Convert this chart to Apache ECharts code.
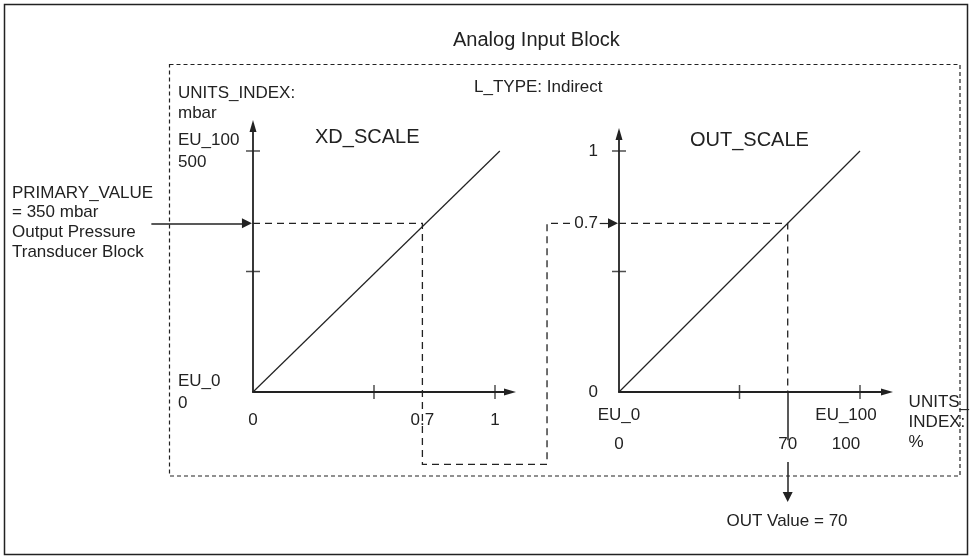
<!DOCTYPE html>
<html>
<head>
<meta charset="utf-8">
<script src="https://cdn.jsdelivr.net/npm/echarts@6/dist/echarts.min.js"></script>
<style>
  html, body { margin: 0; padding: 0; background: #fff; }
  #chart { width: 972px; height: 557px; }
</style>
</head>
<body>
<div id="chart"></div>
<script>
// scale values (normalised 0..1 for XD, 0..100 % for OUT)
const primaryValue = 0.7
const outValue = 70
const xdCurve = [[0, 0], [1.02, 1]]
const outCurve = [[0, 0], [100, 1]]
const xdTicksX = [0.5, 1]
const xdTicksY = [0.5, 1]
const outTicksX = [50, 100]
const outTicksY = [0.5, 1]
const xdLabelsX = [0, 0.7, 1]
const xdLabelsY = [0, 1]
const xdLabelTextY = { 0: 'EU_0\n0', 1: 'EU_100\n500' }
const outLabelsX = [0, 70, 100]
const outLabelsY = [0, 0.7, 1]
// guide paths (data space)
const xdGuide = [[0, primaryValue], [primaryValue, primaryValue], [primaryValue, -0.3], [1.215, -0.3], [1.215, primaryValue], [1.31, primaryValue]]
const inputArrow = [[-0.42, primaryValue], [-0.025, primaryValue]]
const outInArrow = [[-8, primaryValue], [-2.5, primaryValue]]
const outGuide = [[0, primaryValue], [outValue, primaryValue], [outValue, 0]]
const outStem = [[outValue, 0], [outValue, -0.2]]
const outArrow = [[outValue, -0.29], [outValue, -0.436]]

const ink = '#222'
const font = 'Liberation Sans'

const chart = echarts.init(document.getElementById('chart'))

function axisBase(max, extra) {
  return Object.assign({
    type: 'value',
    min: 0,
    max: max,
    splitLine: { show: false },
    axisTick: { show: false },
    axisLine: {
      show: true,
      onZero: false,
      symbol: ['none', 'triangle'],
      symbolSize: [7, 12],
      lineStyle: { color: ink, width: 1.8 }
    }
  }, extra)
}

function lines(xi, data, opts) {
  return Object.assign({
    type: 'lines',
    coordinateSystem: 'cartesian2d',
    xAxisIndex: xi,
    yAxisIndex: xi,
    polyline: data.length > 2,
    clip: false,
    silent: true,
    symbol: 'none',
    lineStyle: { color: ink, width: 1.2, opacity: 1 },
    data: [{ coords: data }]
  }, opts)
}

function arrow(xi, data, width) {
  return lines(xi, data, {
    symbol: ['none', 'triangle'],
    symbolSize: 10,
    lineStyle: { color: ink, width: width, opacity: 1 }
  })
}

function ticks(xi, pts, size) {
  return {
    type: 'scatter',
    xAxisIndex: xi,
    yAxisIndex: xi,
    clip: false,
    silent: true,
    symbol: 'rect',
    symbolSize: size,
    itemStyle: { color: ink },
    data: pts
  }
}

const labelStyle = { color: ink, fontSize: 17, fontFamily: font }
const dashed = { color: ink, width: 1.3, type: [7, 5], opacity: 1 }

const option = {
  backgroundColor: '#fff',
  animation: false,
  textStyle: { fontFamily: font },
  grid: [
    { left: 253, top: 126, width: 257, height: 266 },
    { left: 619, top: 134, width: 268, height: 258 }
  ],
  xAxis: [
    axisBase(1.062, {
      gridIndex: 0,
      axisLabel: Object.assign({ customValues: xdLabelsX, margin: 20 }, labelStyle)
    }),
    axisBase(111.2, {
      gridIndex: 1,
      name: 'UNITS_\nINDEX:\n%',
      nameLocation: 'end',
      nameGap: 9,
      nameTextStyle: Object.assign({ align: 'left', verticalAlign: 'top', lineHeight: 20 }, labelStyle),
      axisLabel: Object.assign({
        customValues: outLabelsX,
        margin: 9,
        lineHeight: 29,
        formatter: v => v === 100 ? '{s|EU_100}\n{s|100}' : v === 0 ? 'EU_0\n0' : '\n' + v,
        rich: { s: Object.assign({ lineHeight: 29, padding: [0, 28, 0, 0] }, labelStyle) }
      }, labelStyle)
    })
  ],
  yAxis: [
    axisBase(1.1037, {
      gridIndex: 0,
      axisLabel: Object.assign({
        customValues: xdLabelsY,
        margin: 75,
        align: 'left',
        lineHeight: 22,
        formatter: v => xdLabelTextY[v]
      }, labelStyle)
    }),
    axisBase(1.0705, {
      gridIndex: 1,
      axisLabel: Object.assign({ customValues: outLabelsY, margin: 21 }, labelStyle)
    })
  ],
  series: [
    lines(0, xdCurve),
    lines(1, outCurve),
    lines(0, xdGuide, { lineStyle: dashed }),
    lines(1, outGuide, { lineStyle: dashed }),
    arrow(0, inputArrow, 1.5),
    arrow(1, outInArrow, 1.2),
    lines(1, outStem, { lineStyle: { color: ink, width: 1.5, opacity: 1 } }),
    arrow(1, outArrow, 1.5),
    ticks(0, xdTicksX.map(v => [v, 0]), [1.5, 14]),
    ticks(0, xdTicksY.map(v => [0, v]), [14, 1.5]),
    ticks(1, outTicksX.map(v => [v, 0]), [1.5, 14]),
    ticks(1, outTicksY.map(v => [0, v]), [14, 1.5])
  ],
  graphic: [
    { type: 'rect', shape: { x: 4.5, y: 4.5, width: 963, height: 550 }, style: { fill: 'none', stroke: ink, lineWidth: 1.5 }, silent: true },
    { type: 'rect', shape: { x: 169.5, y: 64.5, width: 790.5, height: 411.5 }, style: { fill: 'none', stroke: ink, lineWidth: 1.2, lineDash: [4, 3] }, silent: true },
    { type: 'text', x: 453, y: 40, style: { text: 'Analog Input Block', fontSize: 20, fontFamily: font, fill: ink, verticalAlign: 'middle', textVerticalAlign: 'middle' } },
    { type: 'text', x: 474, y: 87, style: { text: 'L_TYPE: Indirect', fontSize: 17, fontFamily: font, fill: ink, verticalAlign: 'middle', textVerticalAlign: 'middle' } },
    { type: 'text', x: 315, y: 137, style: { text: 'XD_SCALE', fontSize: 20, fontFamily: font, fill: ink, verticalAlign: 'middle', textVerticalAlign: 'middle' } },
    { type: 'text', x: 690, y: 140, style: { text: 'OUT_SCALE', fontSize: 20, fontFamily: font, fill: ink, verticalAlign: 'middle', textVerticalAlign: 'middle' } },
    { type: 'text', x: 178, y: 83, style: { text: 'UNITS_INDEX:\nmbar', fontSize: 17, lineHeight: 20, fontFamily: font, fill: ink, verticalAlign: 'top', textVerticalAlign: 'top' } },
    { type: 'text', x: 12, y: 183, style: { text: 'PRIMARY_VALUE\n= 350 mbar\nOutput Pressure\nTransducer Block', fontSize: 17, lineHeight: 19.7, fontFamily: font, fill: ink, verticalAlign: 'top', textVerticalAlign: 'top' } },
    { type: 'text', x: 787, y: 521, style: { text: 'OUT Value = ' + outValue, fontSize: 17, fontFamily: font, fill: ink, align: 'center', textAlign: 'center', verticalAlign: 'middle', textVerticalAlign: 'middle' } }
  ]
}

chart.setOption(option)
</script>
</body>
</html>
